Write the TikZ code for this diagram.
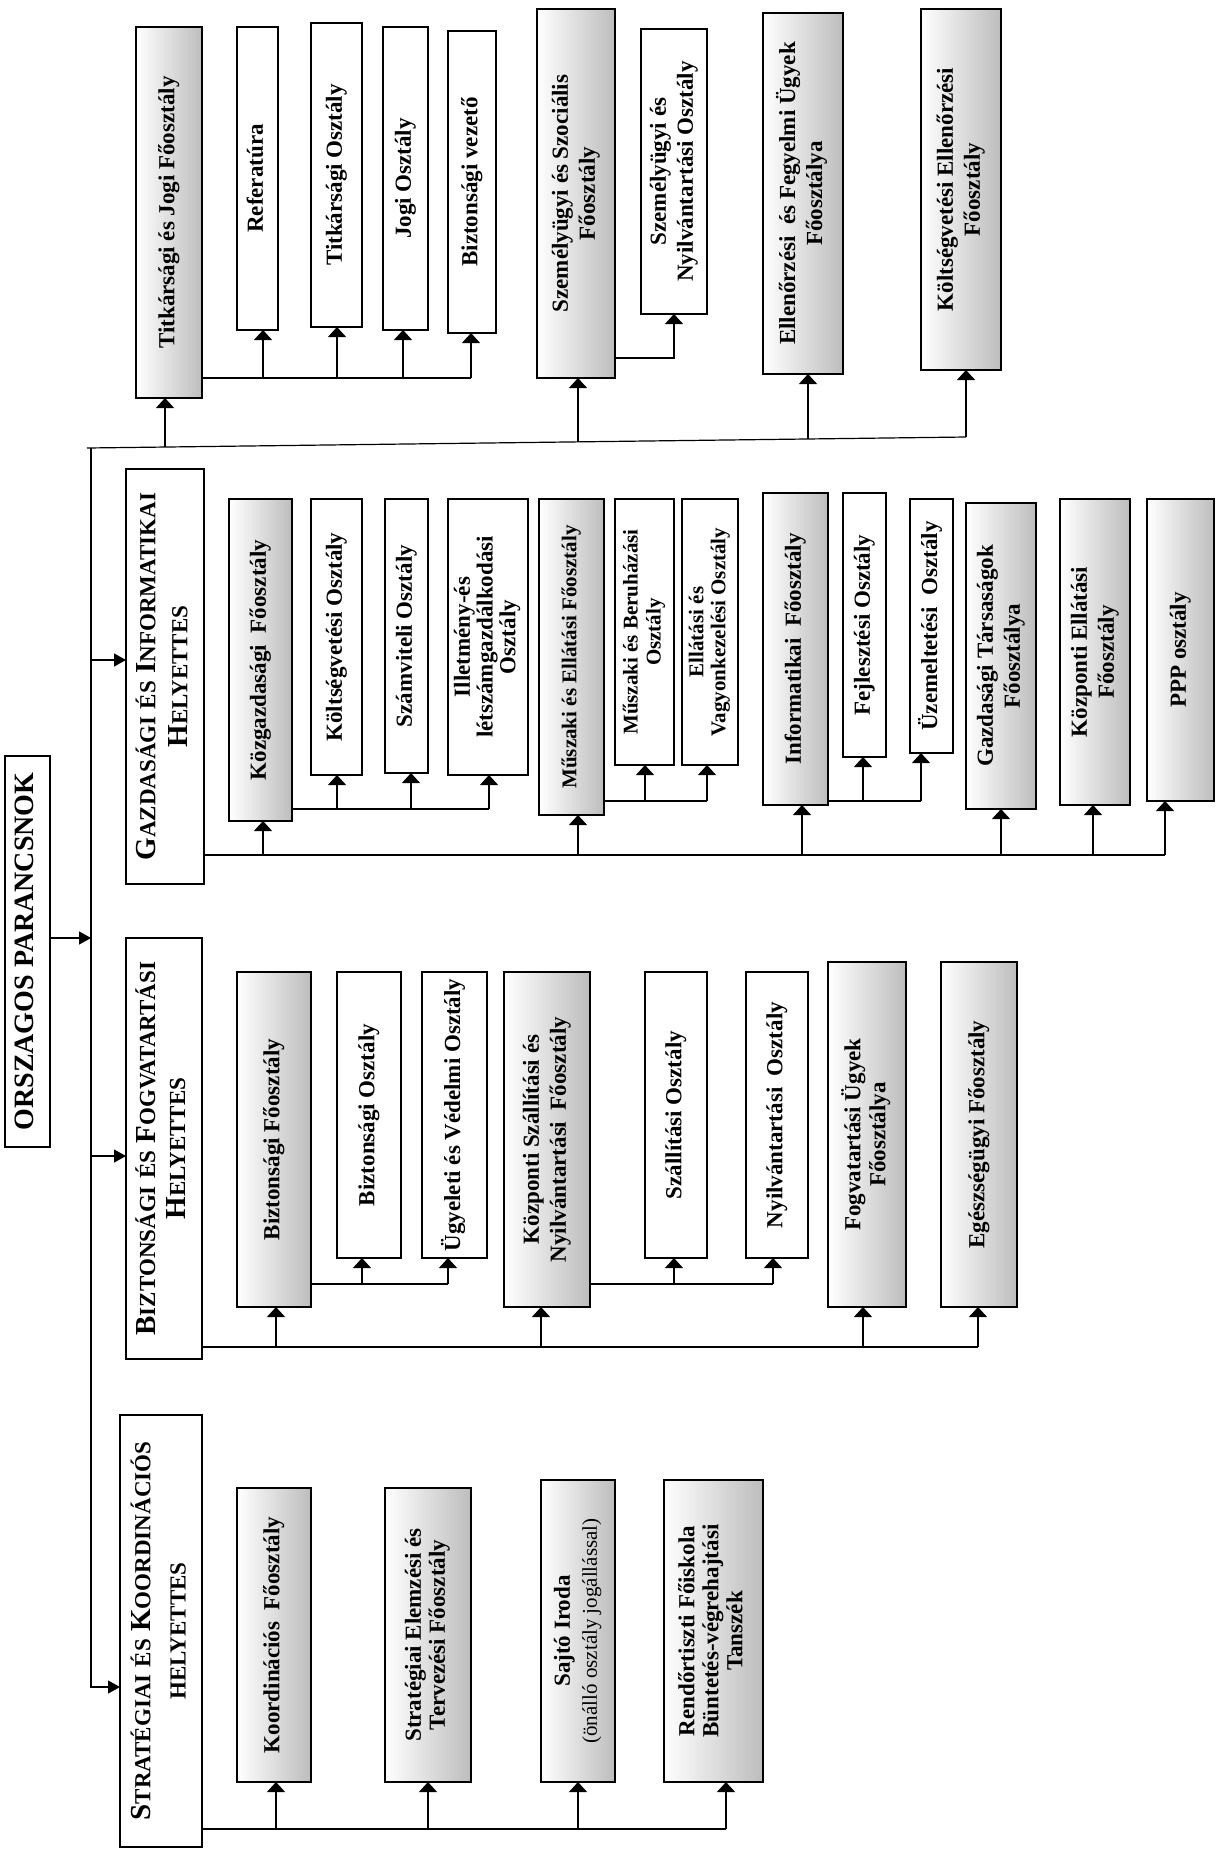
\documentclass[tikz,border=0pt]{standalone}
\usepackage{fontspec}
\setmainfont{Liberation Serif}
\usepackage{graphicx}
\usetikzlibrary{arrows.meta,calc}

\tikzset{
  box/.style={draw=black, line width=0.75pt, inner sep=0pt, outer sep=0pt, rectangle, fill=white},
  shd/.style={draw=black, line width=0.75pt, inner sep=0pt, outer sep=0pt, rectangle,
              left color=white, middle color=gray!12, right color=gray!52},
  conn/.style={line width=0.6pt, draw=black},
  arr/.style={conn, -{Triangle[width=9pt,length=5pt]}},
  harr/.style={conn, -{Triangle[width=6.5pt,length=6pt]}}
}

\newcommand\rt[3]{\rotatebox{90}{\fontsize{#1}{#2}\selectfont\bfseries\begin{tabular}{@{}c@{}}#3\end{tabular}}}
\newcommand\tx[1]{\rt{11.5}{13.5}{#1}}
\newcommand\SCp[2]{{\fontsize{14.5}{16}\selectfont #1}{\fontsize{11.5}{16}\selectfont #2}}
\newcommand\SCs[1]{{\fontsize{11.5}{16}\selectfont #1}}
\newcommand\bx[7]{\node[#6, minimum width={(#4-#2)*0.5pt}, minimum height={(#5-#3)*0.5pt}] (#1) at ({(#2+#4)/2},{(#3+#5)/2}) {#7};}
\newcommand\up[3]{\coordinate (tmp) at (#1,#2); \draw[arr] (tmp) -- (tmp |- #3.south);}

\begin{document}
\begin{tikzpicture}[x=0.5pt,y=-0.5pt]
\useasboundingbox (0,0) rectangle (1220,1854);

% ---------- top row ----------
\bx{tjf}{136}{27}{202}{398}{shd}{\tx{Titkársági és Jogi Főosztály}}
\bx{ref}{237}{27}{278}{330}{box}{\tx{Referatúra}}
\bx{tito}{311}{23}{362}{327}{box}{\tx{Titkársági Osztály}}
\bx{jogi}{383}{27}{428}{330}{box}{\tx{Jogi Osztály}}
\bx{bzv}{448}{31}{496}{333}{box}{\tx{Biztonsági vezető}}
\bx{szf}{537}{9}{615}{378}{shd}{\tx{Személyügyi és Szociális\\Főosztály}}
\bx{szo}{641}{29}{707}{314}{box}{\tx{Személyügyi és\\Nyilvántartási Osztály}}
\bx{ell}{763}{13}{843}{374}{shd}{\tx{Ellenőrzési~ és Fegyelmi Ügyek\\Főosztálya}}
\bx{kte}{921}{9}{1001}{370}{shd}{\tx{Költségvetési Ellenőrzési\\Főosztály}}

% ---------- Gazdasagi ----------
\bx{gh}{126}{469}{204}{884}{box}{\rt{14.5}{16}{\SCp{G}{AZDASÁGI} \SCs{ÉS} \SCp{I}{NFORMATIKAI}\\\SCp{H}{ELYETTES}}}
\bx{kgf}{229}{499}{292}{821}{shd}{\tx{Közgazdasági~ Főosztály}}
\bx{kvo}{311}{499}{362}{775}{box}{\tx{Költségvetési Osztály}}
\bx{szvo}{385}{499}{428}{773}{box}{\tx{Számviteli Osztály}}
\bx{ilo}{448}{499}{528}{775}{box}{\rt{11.5}{11.3}{Illetmény-és\\létszámgazdálkodási\\Osztály}}
\bx{mef}{539}{499}{604}{815}{shd}{\rt{10.5}{12}{Műszaki és Ellátási Főosztály}}
\bx{mbo}{615}{499}{674}{765}{box}{\rt{10.5}{11.5}{Műszaki és Beruházási\\Osztály}}
\bx{evo}{682}{499}{738}{765}{box}{\rt{10.5}{11}{Ellátási és\\Vagyonkezelési Osztály}}
\bx{inf}{763}{493}{828}{805}{shd}{\tx{Informatikai~ Főosztály}}
\bx{fejo}{843}{493}{886}{757}{box}{\tx{Fejlesztési Osztály}}
\bx{uzo}{910}{499}{953}{753}{box}{\tx{Üzemeltetési~ Osztály}}
\bx{gtf}{966}{503}{1036}{809}{shd}{\tx{Gazdasági Társaságok\\Főosztálya}}
\bx{kef}{1060}{499}{1130}{805}{shd}{\tx{Központi Ellátási\\Főosztály}}
\bx{ppp}{1147}{499}{1214}{801}{shd}{\tx{PPP osztály}}

% ---------- Orszagos parancsnok ----------
\bx{op}{5}{756}{50}{1147}{box}{\rt{14}{16}{ORSZAGOS PARANCSNOK}}

% ---------- Biztonsagi ----------
\bx{bh}{126}{938}{202}{1359}{box}{\rt{14.5}{15}{\SCp{B}{IZTONSÁGI} \SCs{ÉS} \SCp{F}{OGVATARTÁSI}\\\SCp{H}{ELYETTES}}}
\bx{bzf}{237}{972}{311}{1307}{shd}{\tx{Biztonsági Főosztály}}
\bx{bzo}{337}{972}{401}{1258}{box}{\tx{Biztonsági Osztály}}
\bx{ugyo}{422}{972}{487}{1258}{box}{\tx{Ügyeleti és Védelmi Osztály}}
\bx{ksf}{504}{972}{590}{1307}{shd}{\tx{Központi Szállítási és\\Nyilvántartási~ Főosztály}}
\bx{szao}{645}{972}{707}{1258}{box}{\tx{Szállítási Osztály}}
\bx{nyo}{746}{972}{808}{1258}{box}{\tx{Nyilvántartási~ Osztály}}
\bx{fuf}{828}{962}{906}{1307}{shd}{\rt{11.5}{12.5}{Fogvatartási Ügyek\\Főosztálya}}
\bx{egf}{941}{962}{1017}{1307}{shd}{\tx{Egészségügyi Főosztály}}

% ---------- Strategiai ----------
\bx{sh}{120}{1415}{202}{1847}{box}{\rt{14.5}{17.5}{\SCp{S}{TRATÉGIAI} \SCs{ÉS} \SCp{K}{OORDINÁCIÓS}\\\SCs{HELYETTES}}}
\bx{kof}{237}{1488}{311}{1782}{shd}{\tx{Koordinációs~ Főosztály}}
\bx{sef}{385}{1488}{471}{1782}{shd}{\rt{11.5}{12}{Stratégiai Elemzési és\\Tervezési Főosztály}}
\bx{saj}{541}{1480}{615}{1782}{shd}{\tx{Sajtó Iroda\\{\mdseries\fontsize{10.5}{12}\selectfont (önálló osztály jogállással)}}}
\bx{rtf}{664}{1480}{763}{1782}{shd}{\rt{11.5}{12}{Rendőrtiszti Főiskola\\Büntetés-végrehajtási\\Tanszék}}

% ---------- trunk and top bus ----------
\coordinate (busL) at (87,448);
\coordinate (busR) at (966,437);
\coordinate (trTop) at (91,448);
\coordinate (trBot) at (91,1687);
\draw[conn] (busL) -- (busR);
\draw[harr] (trTop) -- (trBot) -- (trBot -| sh.west);
\coordinate (a1) at (165,447); \draw[arr] (a1) -- (a1 |- tjf.south);
\coordinate (a2) at (578,442); \draw[arr] (a2) -- (a2 |- szf.south);
\coordinate (a3) at (808,439); \draw[arr] (a3) -- (a3 |- ell.south);
\draw[arr] (busR) -- (busR |- kte.south);

% Titkarsagi sub-bus
\coordinate (tb) at (471,378);
\draw[conn] (tb -| tjf.east) -- (tb);
\up{263}{378}{ref}
\up{337}{378}{tito}
\up{403}{378}{jogi}
\up{471}{378}{bzv}

% Szemelyugyi
\coordinate (sb) at (674,358);
\draw[arr] (sb -| szf.east) -- (sb) -- (sb |- szo.south);

% Orszagos parancsnok to trunk
\coordinate (opa) at (91,938);
\draw[harr] (opa -| op.east) -- (opa);

% Gazdasagi
\coordinate (tg) at (91,660);
\draw[harr] (tg) -- (tg -| gh.west);
\coordinate (gb) at (1165,855);
\draw[conn] (gb -| gh.east) -- (gb);
\up{263}{855}{kgf}
\up{578}{855}{mef}
\up{802}{855}{inf}
\up{1001}{855}{gtf}
\up{1093}{855}{kef}
\up{1165}{855}{ppp}
\coordinate (kb) at (489,809);
\draw[conn] (kb -| kgf.east) -- (kb);
\up{337}{809}{kvo}
\up{411}{809}{szvo}
\up{489}{809}{ilo}
\coordinate (mb) at (707,801);
\draw[conn] (mb -| mef.east) -- (mb);
\up{645}{801}{mbo}
\up{707}{801}{evo}
\coordinate (ib) at (921,801);
\draw[conn] (ib -| inf.east) -- (ib);
\up{863}{801}{fejo}
\up{921}{801}{uzo}

% Biztonsagi
\coordinate (tb2) at (91,1156);
\draw[harr] (tb2) -- (tb2 -| bh.west);
\coordinate (bb) at (978,1347);
\draw[conn] (bb -| bh.east) -- (bb);
\up{276}{1347}{bzf}
\up{541}{1347}{ksf}
\up{863}{1347}{fuf}
\up{978}{1347}{egf}
\coordinate (bfb) at (448,1284);
\draw[conn] (bfb -| bzf.east) -- (bfb);
\up{362}{1284}{bzo}
\up{448}{1284}{ugyo}
\coordinate (ksb) at (773,1284);
\draw[conn] (ksb -| ksf.east) -- (ksb);
\up{674}{1284}{szao}
\up{773}{1284}{nyo}

% Strategiai
\coordinate (stb) at (726,1829);
\draw[conn] (stb -| sh.east) -- (stb);
\up{276}{1829}{kof}
\up{428}{1829}{sef}
\up{578}{1829}{saj}
\up{726}{1829}{rtf}

\end{tikzpicture}
\end{document}
